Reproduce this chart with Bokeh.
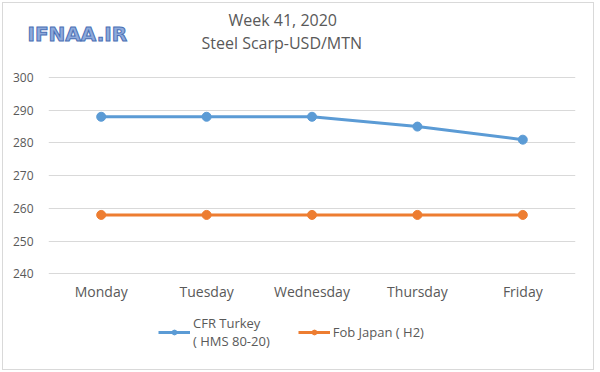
from bokeh.plotting import figure
from bokeh.models import FixedTicker, Legend, LegendItem, Range1d, Title
from bokeh.embed import file_html
from bokeh.resources import INLINE

days = ["Monday", "Tuesday", "Wednesday", "Thursday", "Friday"]
cfr_turkey = [288, 288, 288, 285, 281]
fob_japan = [258, 258, 258, 258, 258]
y_ticks = [240, 250, 260, 270, 280, 290, 300]
series_names = ["CFR Turkey\n( HMS 80-20)", "Fob Japan ( H2)"]
title_lines = ["Week 41, 2020", "Steel Scarp-USD/MTN"]
logo_text = "IFNAA.IR"

FONT = "Open Sans"
GRAY = "#595959"
BLUE = "#5b9bd5"
ORANGE = "#ed7d31"

# frame spans the plot area and the legend strip below the x axis
p = figure(width=590, height=366, x_range=days, y_range=Range1d(210.15, 300.31),
           output_backend="svg", toolbar_location=None,
           min_border_left=45, min_border_right=20, min_border_top=73, min_border_bottom=0)
p.styles = {"border": "1px solid #d9d9d9", "box-sizing": "content-box",
            "margin-left": "2px", "margin-top": "2px"}
p.outline_line_color = None
p.background_fill_color = "white"
p.border_fill_color = "white"

p.xgrid.grid_line_color = None
p.ygrid.grid_line_color = "#d9d9d9"
p.ygrid.ticker = FixedTicker(ticks=y_ticks)
p.yaxis.ticker = FixedTicker(ticks=y_ticks)
p.xaxis.fixed_location = y_ticks[0]

for ax in (p.xaxis, p.yaxis):
    ax.axis_line_color = None
    ax.major_tick_line_color = None
    ax.minor_tick_line_color = None
    ax.major_tick_out = 0
    ax.major_tick_in = 0
    ax.minor_tick_out = 0
    ax.major_label_text_color = GRAY
    ax.major_label_text_font = FONT
p.yaxis.major_label_text_font_size = "12px"
p.xaxis.major_label_text_font_size = "14px"
p.yaxis.major_label_standoff = 15
p.xaxis.major_label_standoff = 8

l1 = p.line(days, cfr_turkey, line_color=BLUE, line_width=3)
c1 = p.scatter(days, cfr_turkey, size=9, fill_color=BLUE, line_color=BLUE)
l2 = p.line(days, fob_japan, line_color=ORANGE, line_width=3)
c2 = p.scatter(days, fob_japan, size=9, fill_color=ORANGE, line_color=ORANGE)

legend = Legend(items=[
    LegendItem(label=series_names[0], renderers=[l1, c1]),
    LegendItem(label=series_names[1], renderers=[l2, c2]),
], orientation="horizontal", location=(110, 21),
    label_text_font=FONT, label_text_font_size="13px", label_text_color=GRAY,
    glyph_width=32, glyph_height=12, spacing=28, padding=0, margin=0,
    border_line_color=None, background_fill_alpha=0, label_standoff=3)
p.add_layout(legend, "center")

# header rows, stacked outward from the frame
spacer = Title(text=" ", text_font=FONT, text_font_size="15px", standoff=4)
t_steel = Title(text=title_lines[1], align="left", offset=153, vertical_align="middle",
                text_font=FONT, text_font_size="16px", text_font_style="normal",
                text_color=GRAY, standoff=-8.3)
t_logo = Title(text=logo_text, align="left", offset=-21, vertical_align="middle",
               text_font="DejaVu Sans", text_font_size="20px", text_font_style="bold",
               text_color="#8eaadb", text_outline_color="#4a6fb5", standoff=-25.3)
t_week = Title(text=title_lines[0], align="left", offset=180, vertical_align="middle",
               text_font=FONT, text_font_size="16px", text_font_style="normal",
               text_color=GRAY, standoff=3.7)
for t in (spacer, t_steel, t_logo, t_week):
    p.add_layout(t, "above")

open("out.html", "w").write(file_html(p, INLINE))
